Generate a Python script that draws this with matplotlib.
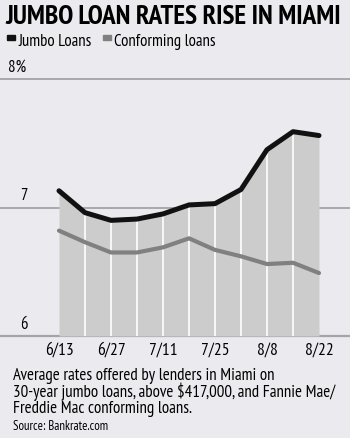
import numpy as np
import matplotlib
matplotlib.use("Agg")
import matplotlib.pyplot as plt

weeks = ["6/13", "6/20", "6/27", "7/4", "7/11", "7/18", "7/25", "8/1", "8/8", "8/15", "8/22"]
jumbo = [7.13, 6.96, 6.90, 6.91, 6.95, 7.02, 7.03, 7.14, 7.45, 7.59, 7.56]
conforming = [6.82, 6.73, 6.65, 6.65, 6.69, 6.76, 6.67, 6.62, 6.56, 6.57, 6.49]
tick_labels = ["6/13", "6/27", "7/11", "7/25", "8/8", "8/22"]
y_ticks = [6, 7, 8]

BG = "#ebebef"
FILL = "#cbcccb"
GRID = "#a3a3a8"
FONT = ["PT Sans Narrow", "DejaVu Sans"]
plt.rcParams["font.family"] = FONT

W, H = 350, 439
fig = plt.figure(figsize=(W / 100, H / 100), dpi=100)
fig.patch.set_facecolor(BG)

# axes placed in pixel terms: x index 0 at px 59, 26 px per week; 6 at px 337, 8 at px 80
top_px, bot_px = 60, 345
ax = fig.add_axes([0, 1 - bot_px / H, 1, (bot_px - top_px) / H])
ax.set_facecolor(BG)
ppu = (337 - 80) / 2.0
ax.set_ylim(6 - (bot_px - 337) / ppu, 8 + (80 - top_px) / ppu)
ax.set_xlim(-59 / 26, (W - 59) / 26)
for s in ax.spines.values():
    s.set_visible(False)
ax.set_xticks([])
ax.set_yticks([])

x = np.arange(len(weeks))

for v in y_ticks:
    ax.axhline(v, color=GRID, lw=1.3 if v != 6 else 1.6, zorder=1)

ax.fill_between(x, 6, jumbo, color=FILL, lw=0, zorder=2)
ax.vlines(x[1:-1], 6, np.array(jumbo)[1:-1], color="white", lw=1.2, zorder=3)

ax.plot(x, conforming, color="#808080", lw=3.0, solid_capstyle="round",
        solid_joinstyle="round", zorder=4)
ax.plot(x, jumbo, color="#111111", lw=3.6, solid_capstyle="round",
        solid_joinstyle="round", zorder=5)

# y labels
ax.text(-59 / 26 + 8 / 26, 8 + 4 / ppu, "8%", fontsize=12, ha="left", va="bottom")
for v in (6, 7):
    ax.text(-59 / 26 + 20 / 26, v + 4 / ppu, str(v), fontsize=12, ha="left", va="bottom")

# x tick labels
for lab in tick_labels:
    i = weeks.index(lab)
    fig.text((59 + 26 * i) / W, 1 - 351 / H, lab, fontsize=12.5, ha="center", va="center")

fig.text(5 / W, 1 - 17 / H, "JUMBO LOAN RATES RISE IN MIAMI", fontsize=19.5,
         fontweight="bold", ha="left", va="center")

# legend
fig.patches.append(plt.Rectangle((7 / W, 1 - 41 / H), 8 / W, 5 / H,
                                 transform=fig.transFigure, color="#111111"))
fig.text(18 / W, 1 - 42 / H, "Jumbo Loans", fontsize=12, ha="left", va="center")
fig.patches.append(plt.Rectangle((103 / W, 1 - 41 / H), 8 / W, 5 / H,
                                 transform=fig.transFigure, color="#808080"))
fig.text(114 / W, 1 - 42 / H, "Conforming loans", fontsize=12, ha="left", va="center")

caption = ["Average rates offered by lenders in Miami on",
           "30-year jumbo loans, above $417,000, and Fannie Mae/",
           "Freddie Mac conforming loans."]
fig.text(13 / W, 1 - 368 / H, "\n".join(caption), fontsize=12.2, ha="left", va="top",
         linespacing=0.93)
fig.text(13 / W, 1 - 427 / H, "Source: Bankrate.com", fontsize=9.2, ha="left", va="center")

fig.savefig("out.png", dpi=100, facecolor=BG)
